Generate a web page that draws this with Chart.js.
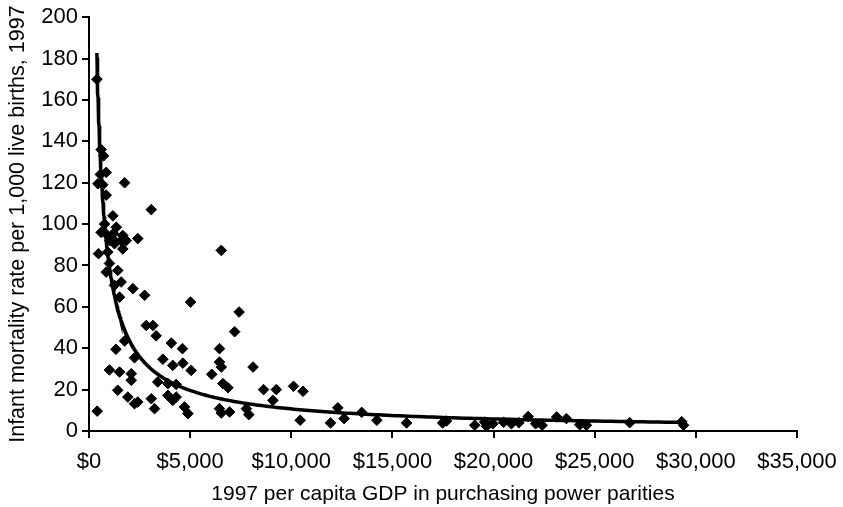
<!DOCTYPE html>
<html>
<head>
<meta charset="utf-8">
<script src="https://cdn.jsdelivr.net/npm/chart.js@4/dist/chart.umd.min.js"></script>
<style>
  html, body { margin: 0; padding: 0; background: #fff; }
  #wrap { width: 843px; height: 507px; position: relative; }
</style>
</head>
<body>
<div id="wrap"><canvas id="c" width="843" height="507"></canvas></div>
<script>
// 1997 per capita GDP (PPP, US$) for each country
const gdp = [
  390, 600, 720, 850, 560, 680, 440, 850, 1760, 3080, 1180, 770, 1350, 600, 870,
  1210, 1020, 1160, 1670, 1590, 1840, 2410, 1260, 470, 930, 1670, 1010, 1420, 850,
  1590, 1260, 2170, 2750, 1510,
  5020, 7420, 2830, 3160, 3320, 7200, 6540, 1760, 1330, 4070, 4620, 6450, 2250,
  3650, 6450, 4640, 4140, 6540, 8110, 5050, 1010, 1510, 2090, 6070, 2090, 3400,
  3900, 4310, 6620, 6870, 1420, 8630, 9260, 10110, 10580, 1920, 3900, 4310, 3080,
  4140, 9090, 2410, 2250, 4720, 3240, 6450, 7780, 6540, 6950, 4890, 7900, 405,
  10440, 12300, 11940, 12610, 13480, 14230, 15700, 17480, 17670, 19070, 19560,
  19650, 19970, 20500, 20880, 21250, 21710, 22080, 22400, 23120, 23600, 24260,
  24590, 26730, 29300, 29390
];

// Infant mortality rate per 1,000 live births, 1997 (same order as gdp)
const mortality = [
  170, 136, 133, 125, 124, 119, 119.5, 114, 120, 107, 104, 100, 98.5, 96, 95,
  95.5, 92, 93, 94.5, 92, 92, 93, 90.5, 85.7, 86.5, 88, 81, 77.6, 76.8,
  72, 70.4, 68.8, 65.6, 64.7,
  62.3, 57.5, 51, 51, 46, 48, 87.3, 43.5, 39.5, 42.5, 39.8, 39.8, 35.4,
  34.7, 33.3, 32.8, 31.7, 30.9, 30.9, 29.3, 29.5, 28.5, 27.7, 27.4, 24.5, 23.7,
  22.9, 22.5, 22.9, 20.9, 19.7, 20, 20, 21.6, 19.2, 16.4, 17.2, 16.4, 15.6,
  14.8, 14.8, 14, 13.2, 11.6, 10.8, 10.8, 10.8, 8.7, 9.2, 8.4, 7.9, 9.6,
  5.2, 11.2, 3.9, 6, 9, 5.2, 3.9, 3.9, 4.8, 2.8, 4.3,
  2.3, 3.5, 4.2, 3.5, 4.0, 7.0, 3.5, 2.8, 6.8, 6.0, 3.0,
  2.8, 4.0, 4.5, 2.8
];

// Axis ticks
const xTickValues = [0, 5000, 10000, 15000, 20000, 25000, 30000, 35000];
const xTickLabels = ['$0', '$5,000', '$10,000', '$15,000', '$20,000', '$25,000', '$30,000', '$35,000'];
const yTickValues = [0, 20, 40, 60, 80, 100, 120, 140, 160, 180, 200];

const xTitle = '1997 per capita GDP in purchasing power parities';
const yTitle = 'Infant mortality rate per 1,000 live births, 1997';

// Scatter points
const points = gdp.map((g, i) => ({ x: g, y: mortality[i] }));

// Power trendline (least squares on ln y vs ln x), spanning the data range
function powerTrend(xs, ys, steps) {
  const n = xs.length;
  let sx = 0, sy = 0, sxx = 0, sxy = 0;
  for (let i = 0; i < n; i++) {
    const lx = Math.log(xs[i]), ly = Math.log(ys[i]);
    sx += lx; sy += ly; sxx += lx * lx; sxy += lx * ly;
  }
  const b = (n * sxy - sx * sy) / (n * sxx - sx * sx);
  const a = Math.exp((sy - b * sx) / n);
  const lo = Math.min(...xs), hi = Math.max(...xs);
  const out = [];
  for (let k = 0; k <= steps; k++) {
    const x = lo * Math.pow(hi / lo, k / steps);
    out.push({ x: x, y: a * Math.pow(x, b) });
  }
  return out;
}
const trend = powerTrend(gdp, mortality, 300);

const FONT = 'Liberation Sans, Arial, Helvetica, sans-serif';

new Chart(document.getElementById('c'), {
  type: 'scatter',
  data: {
    datasets: [
      {
        type: 'line',
        data: trend,
        borderColor: '#000',
        borderWidth: 3.5,
        pointRadius: 0,
        fill: false,
        tension: 0,
        order: 0
      },
      {
        data: points,
        pointStyle: 'rectRot',
        pointRadius: 5.3,
        pointBackgroundColor: '#000',
        pointBorderColor: '#000',
        pointBorderWidth: 1,
        order: 1
      }
    ]
  },
  options: {
    responsive: false,
    animation: false,
    events: [],
    layout: { padding: { left: 0, right: 46, top: 17, bottom: 0 } },
    plugins: {
      legend: { display: false },
      tooltip: { enabled: false }
    },
    scales: {
      x: {
        type: 'linear',
        min: 0,
        max: 35000,
        afterBuildTicks: (s) => { s.ticks = xTickValues.map(v => ({ value: v })); },
        ticks: {
          color: '#000',
          font: { family: FONT, size: 22 },
          padding: 11,
          maxRotation: 0,
          callback: (v) => xTickLabels[xTickValues.indexOf(v)]
        },
        grid: { drawOnChartArea: false, drawTicks: true, tickLength: 7, color: '#000', lineWidth: 2 },
        border: { color: '#000', width: 2 },
        title: {
          display: true,
          text: xTitle,
          color: '#000',
          font: { family: FONT, size: 21 },
          padding: { top: 0, bottom: 0 }
        },
        afterFit: (s) => { s.height = 76; s.paddingRight = 0; s.paddingLeft = 0; }
      },
      y: {
        type: 'linear',
        min: 0,
        max: 200,
        afterBuildTicks: (s) => { s.ticks = yTickValues.map(v => ({ value: v })); },
        ticks: {
          color: '#000',
          font: { family: FONT, size: 22 },
          padding: 4
        },
        grid: { drawOnChartArea: false, drawTicks: true, tickLength: 7, color: '#000', lineWidth: 2 },
        border: { color: '#000', width: 2 },
        title: {
          display: true,
          text: yTitle,
          color: '#000',
          font: { family: FONT, size: 21.5 },
          padding: { top: 5, bottom: 0 }
        },
        afterFit: (s) => { s.width = 89; }
      }
    }
  }
});
</script>
</body>
</html>
